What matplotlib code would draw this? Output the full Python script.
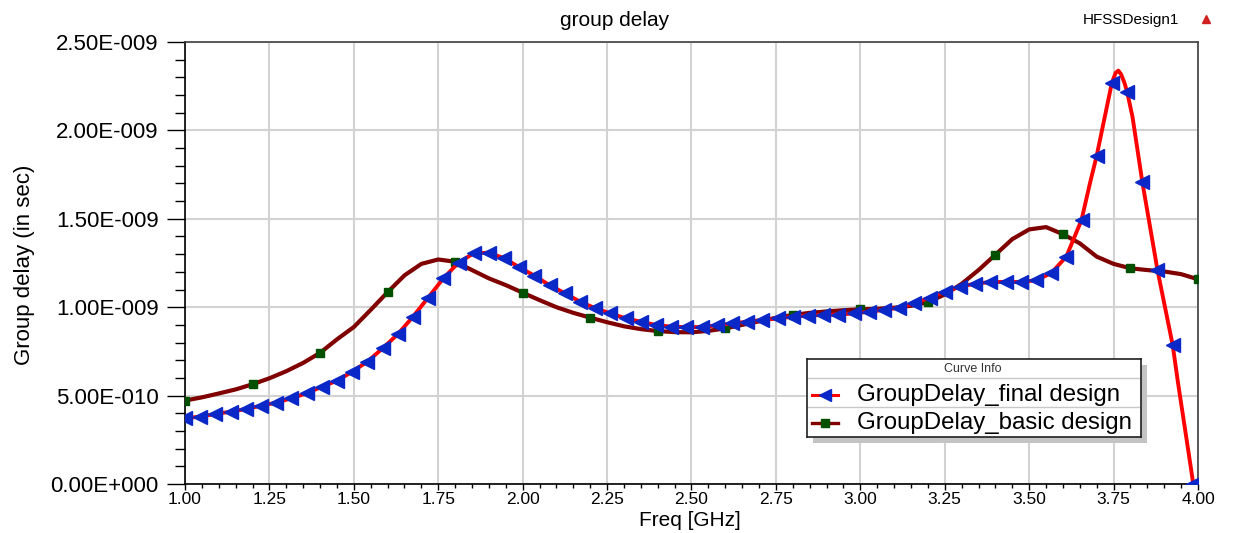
import matplotlib
matplotlib.use('Agg')
import matplotlib.pyplot as plt
from matplotlib.patches import Rectangle
from matplotlib.lines import Line2D
from matplotlib.ticker import FixedLocator, FuncFormatter

plt.rcParams['font.family'] = ['Liberation Sans', 'DejaVu Sans']

# ---- data (GHz, group delay in ns) ----
final_mark_freq = [1.000, 1.045, 1.090, 1.135, 1.180, 1.225, 1.270, 1.315, 1.360, 1.405,
                   1.450, 1.495, 1.540, 1.585, 1.630, 1.675, 1.720, 1.765, 1.810, 1.855,
                   1.900, 1.945, 1.990, 2.035, 2.080, 2.125, 2.170, 2.215, 2.260, 2.305,
                   2.350, 2.395, 2.440, 2.485, 2.530, 2.575, 2.620, 2.665, 2.710, 2.755,
                   2.800, 2.845, 2.890, 2.935, 2.980, 3.025, 3.070, 3.115, 3.160, 3.205,
                   3.250, 3.295, 3.340, 3.385, 3.430, 3.475, 3.520, 3.565, 3.610, 3.655,
                   3.700, 3.745, 3.790, 3.835, 3.880, 3.925, 3.986]
final_mark_gd = [0.372, 0.381, 0.396, 0.409, 0.424, 0.443, 0.460, 0.485, 0.513, 0.550,
                 0.584, 0.635, 0.692, 0.767, 0.847, 0.946, 1.054, 1.163, 1.252, 1.305,
                 1.308, 1.277, 1.226, 1.178, 1.124, 1.079, 1.031, 0.994, 0.965, 0.937,
                 0.918, 0.899, 0.890, 0.887, 0.888, 0.897, 0.908, 0.918, 0.928, 0.937,
                 0.946, 0.953, 0.956, 0.958, 0.965, 0.975, 0.984, 0.997, 1.022, 1.054,
                 1.088, 1.116, 1.133, 1.142, 1.143, 1.143, 1.152, 1.192, 1.286, 1.493,
                 1.857, 2.270, 2.219, 1.710, 1.210, 0.786, 0.000]
# extra readings of the final curve between markers (line only)
final_extra_freq = [3.680, 3.724, 3.756, 3.764, 3.772, 3.782, 3.806, 3.941, 3.971, 4.000]
final_extra_gd = [1.701, 2.077, 2.325, 2.338, 2.318, 2.270, 2.077, 0.570, 0.192, -0.180]

basic_freq = [1.00, 1.05, 1.10, 1.15, 1.20, 1.25, 1.30, 1.35, 1.40, 1.45,
              1.50, 1.55, 1.60, 1.65, 1.70, 1.75, 1.80, 1.85, 1.90, 1.95,
              2.00, 2.05, 2.10, 2.15, 2.20, 2.25, 2.30, 2.35, 2.40, 2.45,
              2.50, 2.55, 2.60, 2.65, 2.70, 2.75, 2.80, 2.85, 2.90, 2.95,
              3.00, 3.05, 3.10, 3.15, 3.20, 3.25, 3.30, 3.35, 3.40, 3.45,
              3.50, 3.55, 3.60, 3.65, 3.70, 3.75, 3.80, 3.85, 3.90, 3.95, 4.00]
basic_gd = [0.472, 0.490, 0.512, 0.535, 0.564, 0.598, 0.638, 0.685, 0.742, 0.818,
            0.888, 0.985, 1.085, 1.180, 1.245, 1.270, 1.257, 1.210, 1.163, 1.125,
            1.082, 1.040, 1.000, 0.968, 0.941, 0.915, 0.892, 0.876, 0.865, 0.859,
            0.858, 0.866, 0.880, 0.900, 0.920, 0.940, 0.956, 0.968, 0.976, 0.983,
            0.988, 0.991, 0.997, 1.008, 1.028, 1.072, 1.132, 1.210, 1.297, 1.385,
            1.440, 1.453, 1.413, 1.361, 1.286, 1.245, 1.220, 1.210, 1.202, 1.187, 1.158]

x_ticks = [1.00, 1.25, 1.50, 1.75, 2.00, 2.25, 2.50, 2.75, 3.00, 3.25, 3.50, 3.75, 4.00]
y_ticks = [0.0, 0.5e-9, 1.0e-9, 1.5e-9, 2.0e-9, 2.5e-9]
series_names = ['GroupDelay_final design', 'GroupDelay_basic design']

# ---- figure ----
W, H = 1233, 533
fig = plt.figure(figsize=(W / 100, H / 100), dpi=100)
L, R, T, B = 185, 1198, 42, 484
ax = fig.add_axes([L / W, 1 - B / H, (R - L) / W, (B - T) / H])

RED = '#ff0000'
BLUE = '#0a28c8'
MAROON = '#800000'
GREEN = '#005000'

# final design line through all readings
pts = sorted(zip(final_mark_freq + final_extra_freq, final_mark_gd + final_extra_gd))
fl_x = [p[0] for p in pts]
fl_y = [p[1] * 1e-9 for p in pts]

ax.plot(basic_freq, [v * 1e-9 for v in basic_gd], color=MAROON, lw=3.0, zorder=3,
        solid_capstyle='round', solid_joinstyle='round')
ax.plot(basic_freq[::4], [v * 1e-9 for v in basic_gd[::4]], ls='none', marker='s',
        ms=6, mfc=GREEN, mec=GREEN, zorder=4)
ax.plot(fl_x, fl_y, color=RED, lw=2.8, zorder=5, solid_joinstyle='round')
ax.plot(final_mark_freq, [v * 1e-9 for v in final_mark_gd], ls='none', marker='<',
        ms=10, mfc=BLUE, mec=BLUE, zorder=6)

ax.set_xlim(1.0, 4.0)
ax.set_ylim(0, 2.5e-9)
ax.set_xticks(x_ticks)
ax.set_xticklabels([f'{v:.2f}' for v in x_ticks])
ax.xaxis.set_minor_locator(FixedLocator([1.0 + 0.05 * i for i in range(61)]))
ax.set_yticks(y_ticks)
ax.yaxis.set_minor_locator(FixedLocator([0.1e-9 * i for i in range(26)]))


def yfmt(v, pos):
    s = f'{v:.2E}'
    mant, exp = s.split('E')
    sign = exp[0]
    return f'{mant}E{sign}{int(exp[1:]):03d}'


ax.yaxis.set_major_formatter(FuncFormatter(yfmt))
ax.grid(True, which='major', color='#d2d2d2', lw=1.5, zorder=0)
ax.set_axisbelow(True)

ax.tick_params(axis='y', which='major', direction='out', length=13, width=1,
               labelsize=16, pad=6, color='black')
ax.tick_params(axis='y', which='minor', direction='out', length=7, width=1, color='black')
ax.tick_params(axis='x', which='major', direction='out', length=4, width=1,
               labelsize=12.5, pad=1.5, color='black')
ax.tick_params(axis='x', which='minor', direction='out', length=3, width=1, color='black')

for s in ['left', 'bottom']:
    ax.spines[s].set_color('black')
    ax.spines[s].set_linewidth(1.2)
for s in ['top', 'right']:
    ax.spines[s].set_color('#404040')
    ax.spines[s].set_linewidth(1.2)

# texts
fig.text(615 / W, 1 - 20 / H, 'group delay', ha='center', va='center', fontsize=15)
fig.text(690 / W, 1 - 520 / H, 'Freq [GHz]', ha='center', va='center', fontsize=15)
fig.text(25 / W, 1 - 265 / H, 'Group delay (in sec)', ha='center', va='center',
         rotation=90, fontsize=16)
fig.text(1131 / W, 1 - 20 / H, 'HFSSDesign1', ha='center', va='center', fontsize=11)
fig.add_artist(Line2D([1206 / W], [1 - 19 / H], marker='^', ms=6, color='#d02020',
                      transform=fig.transFigure))

# legend ("Curve Info" box with shadow)
lx0, ly0, lx1, ly1 = 806.7, 359, 1140.7, 436.7
sh = 6
fig.add_artist(Rectangle(((lx0 + sh) / W, 1 - (ly1 + sh) / H), (lx1 - lx0) / W,
                         (ly1 - ly0) / H, transform=fig.transFigure,
                         facecolor='#c4c4c4', edgecolor='none', zorder=4))
lax = fig.add_axes([lx0 / W, 1 - ly1 / H, (lx1 - lx0) / W, (ly1 - ly0) / H], zorder=5)
lw_, lh_ = lx1 - lx0, ly1 - ly0
lax.set_xlim(0, lw_)
lax.set_ylim(lh_, 0)
lax.set_xticks([])
lax.set_yticks([])
for s in lax.spines.values():
    s.set_color('#202020')
    s.set_linewidth(1.2)
lax.axhline(19.3, color='#c8c8c8', lw=1)
lax.axhline(48.3, color='#c8c8c8', lw=1)
lax.text(166, 9.8, 'Curve Info', ha='center', va='center', fontsize=9, color='#333333')
rows = [(36, RED, BLUE, '<', 9, 2.2), (64.3, MAROON, GREEN, 's', 5.5, 2.4)]
for (yy, lc, mc, mk, ms, lw), name in zip(rows, series_names):
    lax.plot([5, 31.6], [yy, yy], color=lc, lw=lw)
    lax.plot([18.3], [yy], marker=mk, ms=ms, mfc=mc, mec=mc, ls='none')
    lax.text(50, yy, name, ha='left', va='center', fontsize=17.3)

fig.savefig('out.png', dpi=100)
